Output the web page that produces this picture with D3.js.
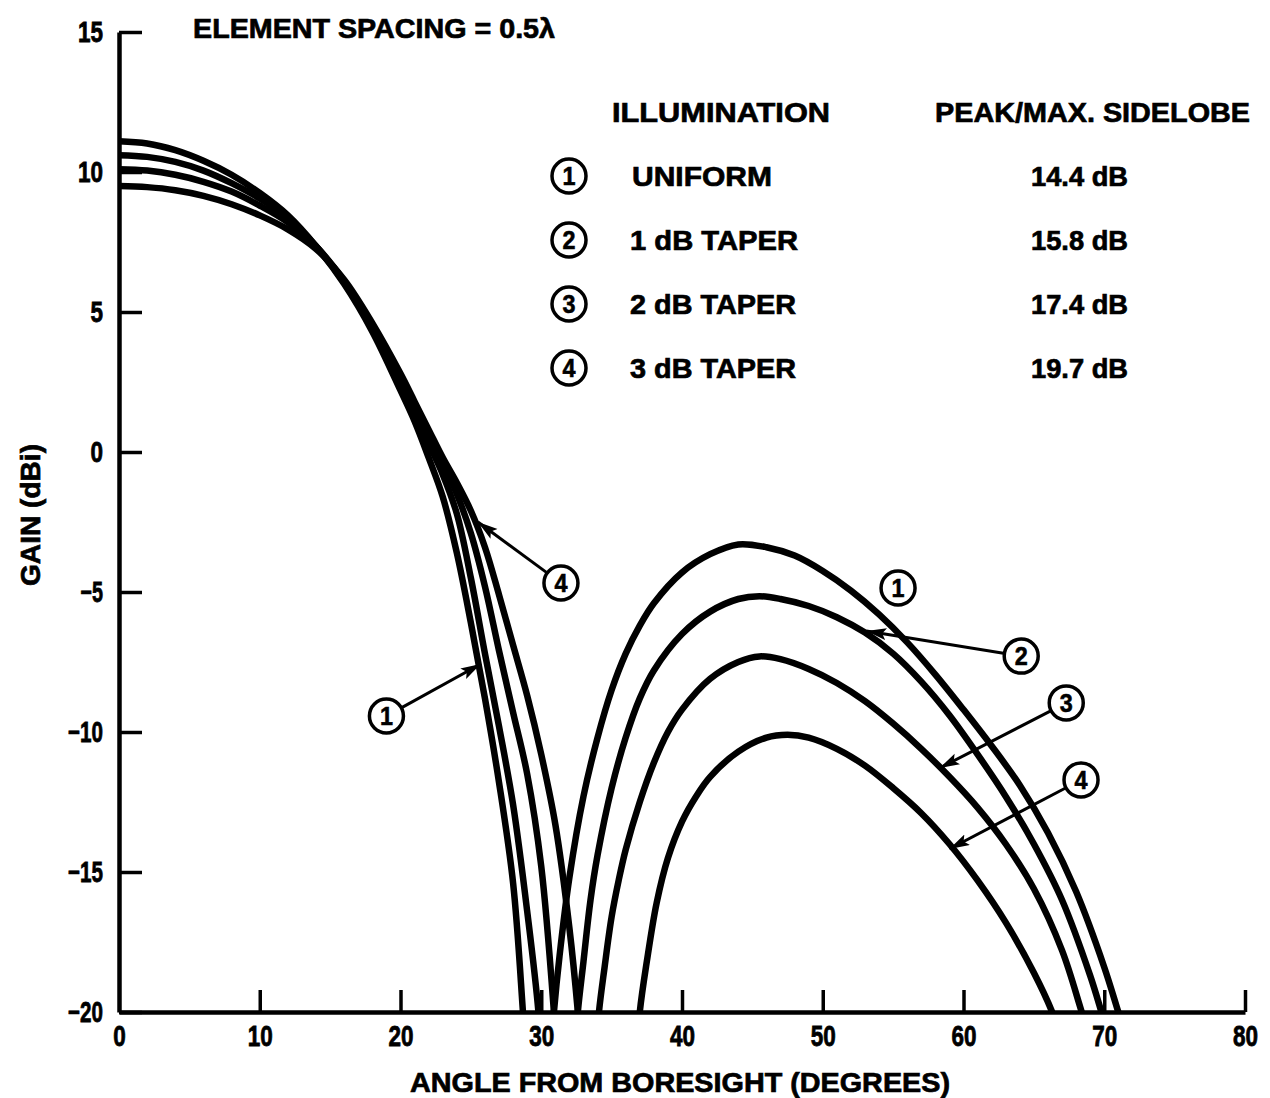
<!DOCTYPE html>
<html><head><meta charset="utf-8">
<script src="https://cdn.jsdelivr.net/npm/d3@7"></script>
<style>body{margin:0;background:#fff}</style>
</head><body><svg id="c" width="1270" height="1098"></svg>
<script>
// ---- tick values ----
const xTicks = [0, 10, 20, 30, 40, 50, 60, 70, 80];
const yTicks = [15, 10, 5, 0, -5, -10, -15, -20];

// ---- series: [angle (deg), gain (dBi)] ----
const uniformMain = [[0,11.1],[2,11.02],[4,10.78],[6,10.4],[8,9.9],[10,9.25],[12,8.45],[14,7.35],[16,6.0],[18,4.3],[20,2.2],[21,1.1],[22,-0.2],[23,-1.6],[24,-3.6],[25,-6.1],[26,-8.8],[27,-11.8],[28,-15.4],[28.7,-20],[29.2,-24]];
const taper1Main  = [[0,10.6],[2,10.54],[4,10.36],[6,10.05],[8,9.6],[10,9.05],[12,8.35],[14,7.35],[16,6.05],[18,4.4],[20,2.4],[21,1.4],[22,0.3],[23,-0.8],[24,-2.2],[25,-4.5],[26,-7.2],[27,-9.8],[28,-12.6],[29,-16.4],[29.8,-20],[30.3,-24]];
const taper2Main  = [[0,10.1],[2,10.05],[4,9.9],[6,9.65],[8,9.3],[10,8.8],[12,8.2],[14,7.35],[16,6.1],[18,4.5],[20,2.6],[21,1.6],[22,0.6],[23,-0.4],[24,-1.5],[25,-2.9],[26,-4.8],[27,-7.1],[28,-9.3],[29,-11.5],[30,-14.8],[30.9,-20],[31.4,-24]];
const taper3Main  = [[0,9.5],[2,9.46],[4,9.35],[6,9.15],[8,8.85],[10,8.45],[12,7.95],[14,7.25],[16,6.15],[18,4.6],[20,2.8],[21,1.8],[22,0.8],[23,-0.2],[24,-1.1],[25,-2.1],[26,-3.4],[27,-5.1],[28,-6.9],[29,-8.7],[30,-10.8],[31,-13.3],[32,-17.0],[32.6,-20],[33.2,-24]];

const uniformSide = [[30.6,-22],[30.9,-20],[31.3,-18],[32,-15.2],[33,-12.3],[34,-10.2],[35,-8.5],[36,-7.2],[37,-6.2],[38,-5.4],[40,-4.3],[42,-3.65],[44,-3.3],[46,-3.4],[48,-3.7],[50,-4.25],[52,-4.95],[54,-5.8],[56,-6.8],[58,-7.95],[60,-9.2],[62,-10.5],[64,-11.9],[66,-13.6],[68,-15.7],[70,-18.4],[71,-20],[72,-21.6]];
const taper1Side  = [[32.3,-22],[32.6,-20],[33,-18.2],[33.5,-16.0],[34,-14.4],[35,-12.0],[36,-10.2],[37,-8.8],[38,-7.8],[40,-6.5],[42,-5.7],[44,-5.25],[45.5,-5.15],[47,-5.25],[49,-5.5],[51,-5.9],[53,-6.45],[55,-7.2],[57,-8.2],[59,-9.4],[61,-10.8],[63,-12.3],[65,-14.0],[67,-16.0],[69,-18.7],[69.8,-20],[70.5,-21.2]];
const taper2Side  = [[33.8,-22],[34.1,-20],[34.5,-18.4],[35,-16.6],[35.5,-15.3],[36,-14.2],[37,-12.5],[38,-11.1],[39,-10.0],[40,-9.2],[42,-8.1],[44,-7.5],[45.5,-7.3],[47,-7.4],[49,-7.75],[51,-8.25],[53,-8.9],[55,-9.7],[57,-10.6],[59,-11.6],[61,-12.7],[63,-14.0],[65,-15.6],[67,-17.8],[68.4,-20],[69.2,-21.3]];
const taper3Side  = [[36.7,-22],[37.0,-20],[37.5,-18.2],[38.2,-16.1],[39,-14.5],[40,-13.2],[41,-12.3],[42,-11.6],[44,-10.7],[46,-10.2],[47.5,-10.1],[49,-10.2],[51,-10.6],[53,-11.2],[55,-12.0],[57,-12.9],[59,-14.0],[61,-15.3],[63,-16.8],[65,-18.6],[66.3,-20],[67,-21]];

// ---- legend ----
const legendIds = ["1","2","3","4"];
const legendNames = ["UNIFORM","1 dB TAPER","2 dB TAPER","3 dB TAPER"];
const legendSidelobes = ["14.4 dB","15.8 dB","17.4 dB","19.7 dB"];

// ---- callouts: label, label position (deg, dB), arrow target (deg, dB) or null ----
const calloutLabels  = ["4","1","1","2","3","4"];
const calloutAt      = [[31.4,-4.68],[19.0,-9.43],[55.35,-4.86],[64.1,-7.29],[67.3,-8.96],[68.35,-11.71]];
const calloutTargets = [[25.5,-2.5],[25.7,-7.57],null,[53.1,-6.39],[58.3,-11.29],[59.0,-14.18]];

// =========================================================
const FONT = "'Liberation Sans', Arial, Helvetica, sans-serif";
const svg = d3.select("#c");
const x = d3.scaleLinear().domain([0, 80]).range([119, 1245]);
const y = d3.scaleLinear().domain([-20, 15]).range([1012, 32]);

const defs = svg.append("defs");
defs.append("clipPath").attr("id","plot").append("rect")
  .attr("x", x(0)).attr("y", y(15)).attr("width", x(80)-x(0)).attr("height", y(-20)-y(15));
defs.append("marker").attr("id","arr").attr("markerUnits","userSpaceOnUse")
  .attr("markerWidth",22).attr("markerHeight",14).attr("refX",20).attr("refY",6)
  .attr("orient","auto")
  .append("path").attr("d","M0,0 L20,6 L0,12 L4,6 Z").attr("fill","#000");

// curves
const line = d3.line().x(d => x(d[0])).y(d => y(d[1])).curve(d3.curveCatmullRom.alpha(0.5));
const series = [uniformMain, taper1Main, taper2Main, taper3Main, uniformSide, taper1Side, taper2Side, taper3Side];
svg.append("g").attr("clip-path","url(#plot)")
  .selectAll("path").data(series).join("path")
  .attr("d", line).attr("fill","none").attr("stroke","#000")
  .attr("stroke-width",6.5).attr("stroke-linejoin","round");

// axes
const digitW = 12.5, minusW = 10;
function tl(s){ let w=0; for(const c of s){ w += (c==="−"||c==="-") ? minusW : digitW; } return w; }

const gy = svg.append("g").attr("transform",`translate(${x(0)},0)`)
  .call(d3.axisLeft(y).tickValues(yTicks).tickSize(-23).tickSizeOuter(0).tickPadding(16).tickFormat(d3.format("d")));
const gx = svg.append("g").attr("transform",`translate(0,${y(-20)})`)
  .call(d3.axisBottom(x).tickValues(xTicks).tickSize(-22).tickSizeOuter(0).tickPadding(13).tickFormat(d3.format("d")));
[gy, gx].forEach(g => {
  g.select(".domain").attr("stroke","#000").attr("stroke-width",4.5);
  g.selectAll(".tick line").attr("stroke","#000").attr("stroke-width",3.5);
  g.selectAll(".tick text").attr("fill","#000").attr("font-family",FONT)
    .attr("font-weight","bold").attr("font-size",29)
    .attr("stroke","#000").attr("stroke-width",0.8)
    .each(function(){ const t=d3.select(this); t.attr("textLength", tl(t.text())).attr("lengthAdjust","spacingAndGlyphs"); });
});
gx.selectAll(".tick").filter(d => d === 0).select("line").remove();

// text helper
function txt(s, px, py, w, opts={}){
  const t = svg.append("text").text(s).attr("x",px).attr("y",py)
    .attr("font-family",FONT).attr("font-weight","bold").attr("font-size",opts.size||28)
    .attr("fill","#000").attr("stroke","#000").attr("stroke-width",0.7);
  if (w) t.attr("textLength",w).attr("lengthAdjust","spacingAndGlyphs");
  if (opts.anchor) t.attr("text-anchor",opts.anchor);
  return t;
}

txt("ELEMENT SPACING = 0.5λ", 193, 38, 362);
txt("ANGLE FROM BORESIGHT (DEGREES)", 410, 1092, 540);
svg.append("text").text("GAIN (dBi)")
  .attr("transform","translate(40,515) rotate(-90)")
  .attr("text-anchor","middle").attr("font-family",FONT).attr("font-weight","bold")
  .attr("stroke","#000").attr("stroke-width",0.7)
  .attr("font-size",28).attr("textLength",142).attr("lengthAdjust","spacingAndGlyphs");

txt("ILLUMINATION", 612, 122, 218);
txt("PEAK/MAX. SIDELOBE", 935, 122, 315);

function circ(cx, cy, label){
  svg.append("circle").attr("cx",cx).attr("cy",cy).attr("r",17)
    .attr("fill","#fff").attr("stroke","#000").attr("stroke-width",3.5);
  svg.append("text").text(label).attr("x",cx).attr("y",cy+9).attr("text-anchor","middle")
    .attr("font-family",FONT).attr("font-weight","bold").attr("font-size",26)
    .attr("stroke","#000").attr("stroke-width",0.6)
    .attr("textLength",13).attr("lengthAdjust","spacingAndGlyphs");
}

const rowY = [176, 240, 304, 368];
const nameX = [632, 630, 630, 630];
const nameW = [140, 168, 166, 166];
legendIds.forEach((id,i) => {
  circ(569, rowY[i], id);
  txt(legendNames[i], nameX[i], rowY[i]+10, nameW[i]);
  txt(legendSidelobes[i], 1031, rowY[i]+10, 97);
});

// callouts
calloutLabels.forEach((lab,i) => {
  const cx = x(calloutAt[i][0]), cy = y(calloutAt[i][1]);
  const tg = calloutTargets[i];
  if (tg) {
    const tx = x(tg[0]), ty = y(tg[1]);
    const dx = tx-cx, dy = ty-cy, L = Math.hypot(dx,dy);
    svg.append("line").attr("x1",cx+dx/L*18).attr("y1",cy+dy/L*18)
      .attr("x2",tx).attr("y2",ty).attr("stroke","#000").attr("stroke-width",3)
      .attr("marker-end","url(#arr)");
  }
  circ(cx, cy, lab);
});
</script></body></html>
